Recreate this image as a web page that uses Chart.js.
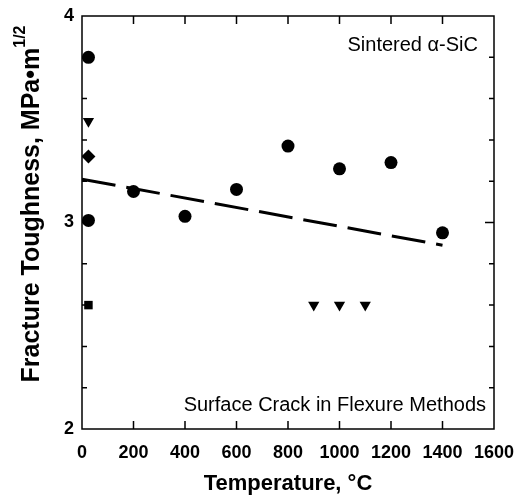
<!DOCTYPE html>
<html>
<head>
<meta charset="utf-8">
<script src="https://cdn.jsdelivr.net/npm/chart.js@4/dist/chart.umd.min.js"></script>
<style>
  html, body { margin: 0; padding: 0; background: #fff; }
  canvas { display: block; }
</style>
</head>
<body>
<canvas id="chart" width="516" height="503"></canvas>
<script>
// values (temperature in °C, toughness in MPa·m^1/2)
const circleT = [25, 25, 200, 400, 600, 800, 1000, 1200, 1400];
const circleK = [3.8, 3.01, 3.15, 3.03, 3.16, 3.37, 3.26, 3.29, 2.95];
const diamondT = [25];
const diamondK = [3.32];
const triangleT = [25, 900, 1000, 1100];
const triangleK = [3.49, 2.6, 2.6, 2.6];
const squareT = [25];
const squareK = [2.6];
const fitT = [0, 1400];
const fitK = [3.21, 2.89];

const xTicks = [0, 200, 400, 600, 800, 1000, 1200, 1400, 1600];
const yTicks = [2, 3, 4];
const yMinorStep = 0.2;

const font = "'Liberation Sans', Arial, sans-serif";
const pts = (xs, ys) => xs.map((x, i) => ({ x: x, y: ys[i] }));

const markerSet = (data, style, radius, rotation) => ({
    type: "scatter",
    data: data,
    pointStyle: style,
    pointRadius: radius,
    pointRotation: rotation || 0,
    backgroundColor: "#000",
    borderColor: "#000",
    borderWidth: 0,
    showLine: false
});

// frame, inward ticks, labels and annotations
const decor = {
    id: "decor",
    afterDraw(chart) {
        const ctx = chart.ctx;
        const a = chart.chartArea;
        const xs = chart.scales.x;
        const ys = chart.scales.y;
        ctx.save();
        ctx.strokeStyle = "#000";
        ctx.lineWidth = 1.5;
        ctx.strokeRect(a.left, a.top, a.right - a.left, a.bottom - a.top);

        ctx.beginPath();
        xTicks.forEach(v => {
            if (v === xTicks[0] || v === xTicks[xTicks.length - 1]) return;
            const px = xs.getPixelForValue(v);
            ctx.moveTo(px, a.bottom); ctx.lineTo(px, a.bottom - 8);
            ctx.moveTo(px, a.top); ctx.lineTo(px, a.top + 8);
        });
        for (let v = ys.min + yMinorStep; v < ys.max - 1e-6; v += yMinorStep) {
            const py = ys.getPixelForValue(v);
            const major = Math.abs(v - Math.round(v)) < 1e-6;
            const len = major ? 9 : 5;
            ctx.moveTo(a.left, py); ctx.lineTo(a.left + len, py);
            ctx.moveTo(a.right, py); ctx.lineTo(a.right - len, py);
        }
        ctx.stroke();

        ctx.fillStyle = "#000";
        ctx.font = "20px " + font;
        ctx.textAlign = "right";
        ctx.textBaseline = "middle";
        ctx.fillText("Sintered \u03b1-SiC", a.right - 16, 45);
        ctx.fillText("Surface Crack in Flexure Methods", a.right - 8, 405);

        ctx.font = "bold 22px " + font;
        ctx.textAlign = "center";
        ctx.fillText("Temperature, \u00b0C", 288, 484);

        // rotated y title with superscript
        ctx.translate(30, 204);
        ctx.rotate(-Math.PI / 2);
        const main = "Fracture Toughness, MPa\u2022m";
        const sup = "1/2";
        ctx.font = "bold 25px " + font;
        const w1 = ctx.measureText(main).width;
        ctx.font = "bold 16px " + font;
        const w2 = ctx.measureText(sup).width;
        const start = -(w1 + w2) / 2;
        ctx.textAlign = "left";
        ctx.font = "bold 25px " + font;
        ctx.fillText(main, start, 2);
        ctx.font = "bold 16px " + font;
        ctx.fillText(sup, start + w1, -9);
        ctx.restore();
    }
};

new Chart(document.getElementById("chart").getContext("2d"), {
    type: "scatter",
    data: {
        datasets: [
            markerSet(pts(circleT, circleK), "circle", 6.5),
            markerSet(pts(diamondT, diamondK), "rectRot", 7),
            markerSet(pts(triangleT, triangleK), "triangle", 6.5, 180),
            markerSet(pts(squareT, squareK), "rect", 6),
            {
                type: "line",
                data: pts(fitT, fitK),
                borderColor: "#000",
                borderWidth: 3,
                borderDash: [34, 11],
                pointRadius: 0,
                fill: false
            }
        ]
    },
    options: {
        responsive: false,
        animation: false,
        layout: { padding: { top: 16, right: 22, left: 0, bottom: 0 } },
        plugins: {
            legend: { display: false },
            tooltip: { enabled: false }
        },
        scales: {
            x: {
                type: "linear",
                min: xTicks[0],
                max: xTicks[xTicks.length - 1],
                afterBuildTicks: s => { s.ticks = xTicks.map(v => ({ value: v })); },
                afterFit: s => { s.height = 74; s.paddingLeft = 0; s.paddingRight = 0; },
                grid: { display: false, drawTicks: false },
                border: { display: false },
                ticks: {
                    color: "#000",
                    padding: 13,
                    maxRotation: 0,
                    autoSkip: false,
                    callback: v => String(v),
                    font: { family: font, size: 18, weight: "bold" }
                }
            },
            y: {
                type: "linear",
                min: yTicks[0],
                max: yTicks[yTicks.length - 1],
                afterBuildTicks: s => { s.ticks = yTicks.map(v => ({ value: v })); },
                afterFit: s => { s.width = 82; s.paddingTop = 0; s.paddingBottom = 0; },
                grid: { display: false, drawTicks: false },
                border: { display: false },
                ticks: {
                    color: "#000",
                    padding: 8,
                    callback: v => String(v),
                    font: { family: font, size: 18, weight: "bold" }
                }
            }
        }
    },
    plugins: [decor]
});
</script>
</body>
</html>
